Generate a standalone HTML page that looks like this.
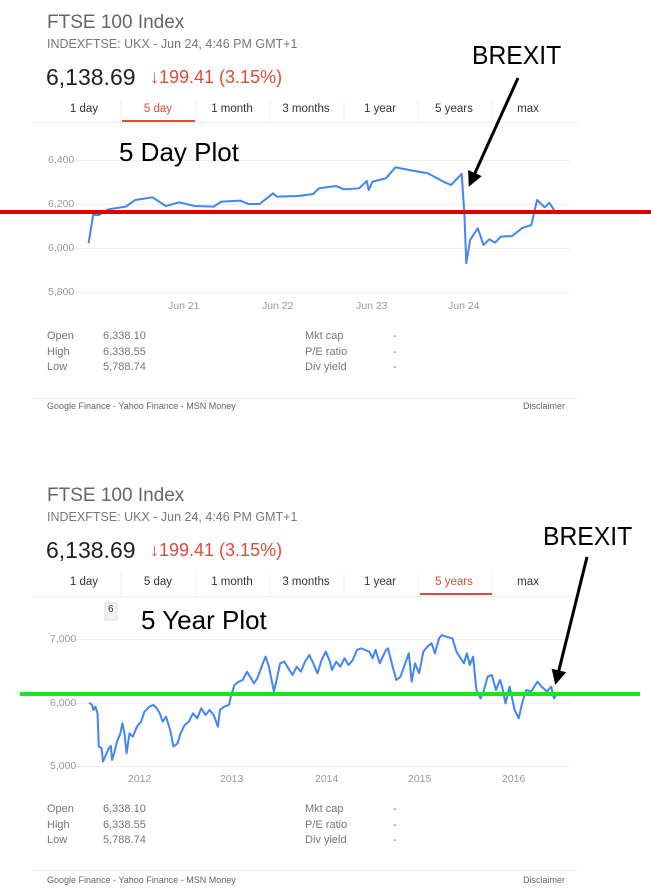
<!DOCTYPE html>
<html><head><meta charset="utf-8"><style>
body{margin:0;width:651px;height:890px;background:#fff;position:relative;overflow:hidden;font-family:"Liberation Sans",Arial,sans-serif}
.a{position:absolute;white-space:nowrap}
.t{font-size:19px;color:#666}
.s{font-size:12.5px;color:#777}
.p{font-size:23px;color:#222}
.r{font-size:18px;color:#dd4b39}
.tab{font-size:11.5px;color:#333;text-align:center;width:70px}
.g{font-size:10.5px;color:#999}
.i{font-size:11px;color:#777}
.f{font-size:9px;color:#666}
.big{font-size:26px;color:#000}
</style></head><body>
<svg width="651" height="890" style="position:absolute;left:0;top:0">
<defs><marker id="ah" markerWidth="5" markerHeight="5" refX="4" refY="2.5" orient="auto" markerUnits="strokeWidth"><path d="M0,0 L5,2.5 L0,5 z" fill="#000"/></marker></defs>
<g stroke="#eee" stroke-width="1">
<line x1="32" y1="122.5" x2="578" y2="122.5"/>
<line x1="70" y1="160.5" x2="570" y2="160.5"/><line x1="70" y1="204.5" x2="570" y2="204.5"/><line x1="70" y1="248.5" x2="570" y2="248.5"/><line x1="70" y1="292.5" x2="570" y2="292.5"/>
<line x1="32" y1="398.5" x2="578" y2="398.5"/>
<line x1="32" y1="596.5" x2="578" y2="596.5"/>
<line x1="70" y1="639.5" x2="570" y2="639.5"/><line x1="70" y1="703.5" x2="570" y2="703.5"/><line x1="70" y1="766.5" x2="570" y2="766.5"/>
<line x1="32" y1="870.5" x2="578" y2="870.5"/>
</g>
<g stroke="#ececec"><line x1="121" y1="100" x2="121" y2="121"/><line x1="196" y1="100" x2="196" y2="121"/><line x1="270" y1="100" x2="270" y2="121"/><line x1="344" y1="100" x2="344" y2="121"/><line x1="418" y1="100" x2="418" y2="121"/><line x1="492" y1="100" x2="492" y2="121"/>
<line x1="121" y1="573" x2="121" y2="594"/><line x1="196" y1="573" x2="196" y2="594"/><line x1="270" y1="573" x2="270" y2="594"/><line x1="344" y1="573" x2="344" y2="594"/><line x1="418" y1="573" x2="418" y2="594"/><line x1="492" y1="573" x2="492" y2="594"/></g>
<line x1="122" y1="121" x2="195" y2="121" stroke="#dd4b39" stroke-width="2"/>
<line x1="420" y1="594" x2="492" y2="594" stroke="#dd4b39" stroke-width="2"/>
<g transform="translate(30,0) scale(0.3827,0.3333)">
<polyline fill="none" stroke="#4285f4" stroke-width="2" vector-effect="non-scaling-stroke" stroke-linejoin="round" points="153,730 165,645 180,645 205,628 250,620 275,600 320,592 355,618 390,607 430,618 480,620 500,605 550,602 570,612 600,612 635,580 645,590 700,588 740,582 755,565 800,558 820,568 860,565 880,543 885,570 895,545 930,535 955,502 1000,512 1040,520 1080,545 1100,555 1128,522 1135,640 1140,790 1150,720 1170,685 1185,735 1200,718 1215,728 1230,710 1260,708 1285,685 1310,675 1325,600 1345,622 1357,608 1372,635"/>
</g>
<g transform="translate(0,590) scale(0.415,0.3333)">
<polyline fill="none" stroke="#4285f4" stroke-width="2" vector-effect="non-scaling-stroke" stroke-linejoin="round" points="215,338 222,345 225,360 230,350 235,370 238,470 245,475 248,515 255,495 262,475 267,468 270,510 275,490 282,455 290,430 295,400 300,430 305,490 312,430 320,440 330,410 340,395 348,365 360,350 370,345 378,355 385,370 392,395 400,380 410,420 418,470 428,460 435,430 445,405 455,395 465,370 475,385 485,355 495,375 505,360 515,375 525,410 530,360 540,350 552,345 556,320 565,285 575,275 585,270 595,245 605,265 612,280 620,265 632,225 640,200 648,230 660,305 670,250 675,220 685,215 695,235 705,255 715,230 725,245 735,215 745,195 755,220 765,250 775,210 785,185 795,215 800,240 810,215 820,230 830,205 840,225 850,210 860,180 870,175 880,180 890,185 898,205 905,180 915,220 930,180 935,175 945,225 955,270 965,260 975,225 985,190 992,275 1000,220 1010,250 1020,185 1030,170 1040,160 1048,190 1058,145 1065,135 1075,140 1090,145 1100,185 1110,205 1118,220 1125,190 1132,225 1140,200 1148,300 1158,325 1165,305 1175,260 1185,255 1195,300 1205,270 1210,290 1218,340 1228,290 1240,360 1250,385 1258,340 1268,300 1280,305 1295,275 1305,290 1318,305 1328,290 1335,325 1345,305"/>
</g>
<line x1="0" y1="212" x2="651" y2="212" stroke="#e00000" stroke-width="4"/>
<line x1="20" y1="694" x2="640" y2="694" stroke="#22e022" stroke-width="4"/>
<line x1="518" y1="78" x2="470" y2="184" stroke="#000" stroke-width="3" marker-end="url(#ah)"/>
<line x1="587" y1="557" x2="556" y2="682" stroke="#000" stroke-width="3" marker-end="url(#ah)"/>
<rect x="105" y="603" width="12" height="17" fill="#f2f2f2" stroke="#ddd"/>
</svg>

<div class="a t" style="left:47px;top:12px">FTSE 100 Index</div>
<div class="a s" style="left:47px;top:37px">INDEXFTSE: UKX - Jun 24, 4:46 PM GMT+1</div>
<div class="a p" style="left:46px;top:64px">6,138.69</div>
<div class="a r" style="left:150px;top:67px">&#x2193;199.41 (3.15%)</div>
<div class="a tab" style="left:49px;top:103px">1 day</div>
<div class="a tab" style="left:123px;top:103px;color:#dd4b39">5 day</div>
<div class="a tab" style="left:197px;top:103px">1 month</div>
<div class="a tab" style="left:271px;top:103px">3 months</div>
<div class="a tab" style="left:345px;top:103px">1 year</div>
<div class="a tab" style="left:419px;top:103px">5 years</div>
<div class="a tab" style="left:493px;top:103px">max</div>
<div class="a big" style="left:119px;top:137px">5 Day Plot</div>
<div class="a big" style="left:472px;top:40px;transform:scaleX(0.95);transform-origin:left">BREXIT</div>
<div class="a g" style="left:48px;top:154px">6,400</div>
<div class="a g" style="left:48px;top:198px">6,200</div>
<div class="a g" style="left:48px;top:242px">6,000</div>
<div class="a g" style="left:48px;top:286px">5,800</div>
<div class="a g" style="left:168px;top:300px">Jun 21</div>
<div class="a g" style="left:262px;top:300px">Jun 22</div>
<div class="a g" style="left:356px;top:300px">Jun 23</div>
<div class="a g" style="left:448px;top:300px">Jun 24</div>
<div class="a i" style="left:47px;top:329px;line-height:15.5px">Open<br>High<br>Low</div>
<div class="a i" style="left:103px;top:329px;line-height:15.5px">6,338.10<br>6,338.55<br>5,788.74</div>
<div class="a i" style="left:305px;top:329px;line-height:15.5px">Mkt cap<br>P/E ratio<br>Div yield</div>
<div class="a i" style="left:393px;top:329px;line-height:15.5px">-<br>-<br>-</div>
<div class="a f" style="left:47px;top:401px">Google Finance - Yahoo Finance - MSN Money</div>
<div class="a f" style="left:523px;top:401px">Disclaimer</div>

<div class="a t" style="left:47px;top:485px">FTSE 100 Index</div>
<div class="a s" style="left:47px;top:510px">INDEXFTSE: UKX - Jun 24, 4:46 PM GMT+1</div>
<div class="a p" style="left:46px;top:537px">6,138.69</div>
<div class="a r" style="left:150px;top:540px">&#x2193;199.41 (3.15%)</div>
<div class="a tab" style="left:49px;top:576px">1 day</div>
<div class="a tab" style="left:123px;top:576px">5 day</div>
<div class="a tab" style="left:197px;top:576px">1 month</div>
<div class="a tab" style="left:271px;top:576px">3 months</div>
<div class="a tab" style="left:345px;top:576px">1 year</div>
<div class="a tab" style="left:419px;top:576px;color:#dd4b39">5 years</div>
<div class="a tab" style="left:493px;top:576px">max</div>
<div class="a" style="left:108px;top:604px;font-size:10px;color:#333">6</div>
<div class="a big" style="left:141px;top:605px">5 Year Plot</div>
<div class="a big" style="left:543px;top:521px;transform:scaleX(0.95);transform-origin:left">BREXIT</div>
<div class="a g" style="left:50px;top:633px">7,000</div>
<div class="a g" style="left:50px;top:697px">6,000</div>
<div class="a g" style="left:50px;top:760px">5,000</div>
<div class="a g" style="left:128px;top:773px">2012</div>
<div class="a g" style="left:220px;top:773px">2013</div>
<div class="a g" style="left:315px;top:773px">2014</div>
<div class="a g" style="left:408px;top:773px">2015</div>
<div class="a g" style="left:502px;top:773px">2016</div>
<div class="a i" style="left:47px;top:802px;line-height:15.5px">Open<br>High<br>Low</div>
<div class="a i" style="left:103px;top:802px;line-height:15.5px">6,338.10<br>6,338.55<br>5,788.74</div>
<div class="a i" style="left:305px;top:802px;line-height:15.5px">Mkt cap<br>P/E ratio<br>Div yield</div>
<div class="a i" style="left:393px;top:802px;line-height:15.5px">-<br>-<br>-</div>
<div class="a f" style="left:47px;top:875px">Google Finance - Yahoo Finance - MSN Money</div>
<div class="a f" style="left:523px;top:875px">Disclaimer</div>
</body></html>
